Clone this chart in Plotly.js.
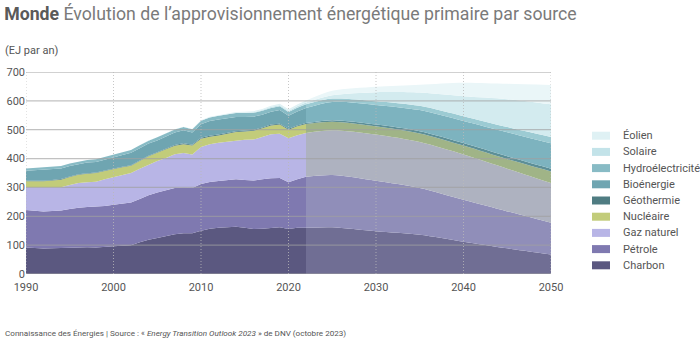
<!DOCTYPE html>
<html>
<head>
<meta charset="utf-8">
<script src="https://cdn.plot.ly/plotly-3.0.1.min.js"></script>
<style>html,body{margin:0;padding:0;background:#fff;}#chart{width:700px;height:341px;}</style>
</head>
<body>
<div id="chart"></div>
<script>
// ---- Data (EJ par an) ----
const seriesNames = ["Charbon","Pétrole","Gaz naturel","Nucléaire","Géothermie","Bioénergie","Hydroélectricité","Solaire","Éolien"];

const histYears = [1990,1991,1992,1993,1994,1995,1996,1997,1998,1999,2000,2001,2002,2003,2004,2005,2006,2007,2008,2009,2010,2011,2012,2013,2014,2015,2016,2017,2018,2019,2020,2021,2022];
const histCharbon = [92,90,88,89,90,92,93,93,92,93,96,98,100,110,119,125,131,138,141,141,150,157,160,163,164,160,156,157,160,162,156,160,160];
const histPetrole = [130,130,129,129,130,133,137,139,141,143,144,145,148,150,154,157,159,160,159,157,162,162,162,162,164,166,168,171,172,171,162,168,177];
const histGaz = [79,81,83,82,81,83,85,86,87,92,96,99,102,105,106,110,112,117,119,116,128,131,133,134,135,139,142,146,152,153,152,153,152];
const histNucleaire = [20,20,21,24,26,28,29,29,30,29,28,28,25,27,29,28,29,29,31,31,29,26,25,26,29,29,30,31,31,32,30,31,31];
const histGeothermie = [2,2,2,2,2,2,2,2,2,2,2,2,2,2,2,2,3,3,3,3,3,3,3,3,3,3,3,3,3,3,3,3,3];
const histBio = [35,37,38,37,37,36,35,37,36,37,39,39,43,42,42,41,42,43,45,42,47,51,52,51,49,47,46,44,44,47,45,48,52];
const histHydro = [8,8,8,8.5,8.5,9,9,9,9.5,9.5,9.5,9.5,9.5,10,10,10.5,11,11,11.5,11.5,12,12.5,13,13.5,13.5,13.5,13.5,13.5,13.5,13.5,13,13,13];
const histSolaire = [0,0,0,0,0,0,0,0,0,0,0,0,0,0,0,0,0,0,0,0,0.3,0.5,0.7,1,1.2,1.5,2,2.5,3,3.5,4,5,6];
const histEolien = [0,0,0,0,0,0,0,0,0,0,0.1,0.2,0.2,0.3,0.3,0.4,0.5,0.6,0.8,1,1.2,1.5,1.8,2.2,2.5,3,3.5,4,4.5,5,5.5,6.5,7];

const projYears = [2022,2025,2030,2035,2040,2045,2050];
const projCharbon = [160,162,148,136,112,89,68];
const projPetrole = [177,181,175,162,145,128,110];
const projGaz = [152,155,160,159,157,148,137];
const projNucleaire = [31,30,29,30,31,33,40];
const projGeothermie = [3,5,6,8,9,10,10];
const projBio = [52,63,68,73,76,83,88];
const projHydro = [13,12,13,15,17,18,22];
const projSolaire = [6,11,31,46,69,97,113];
const projEolien = [7,16,19,27,47,53,67];

const xTicks = [1990,2000,2010,2020,2030,2040,2050];
const yTicks = [0,100,200,300,400,500,600,700];

// ---- Styles ----
const histColors = ["#5b5880","#7f79b0","#b8b5e6","#c2cc7a","#4f7c82","#6fa5b1","#88bbc5","#c3e3e9","#dff1f4"];
const projColors = ["#706e94","#908eb9","#aeb2c0","#a0b487","#5d8f97","#7db3bf","#9ccbd3","#d3ebef","#eaf6f8"];

const histData = [histCharbon,histPetrole,histGaz,histNucleaire,histGeothermie,histBio,histHydro,histSolaire,histEolien];
const projData = [projCharbon,projPetrole,projGaz,projNucleaire,projGeothermie,projBio,projHydro,projSolaire,projEolien];

const traces = [];
seriesNames.forEach((name,i)=>{
  traces.push({
    type:'scatter', mode:'lines', x:histYears, y:histData[i], name:name,
    stackgroup:'hist', line:{width:0,color:histColors[i]}, fillcolor:histColors[i],
    showlegend:false, hoverinfo:'skip'
  });
});
seriesNames.forEach((name,i)=>{
  traces.push({
    type:'scatter', mode:'lines', x:projYears, y:projData[i], name:name,
    stackgroup:'proj', line:{width:0,color:projColors[i],shape:'spline',smoothing:0.8}, fillcolor:projColors[i],
    showlegend:false, hoverinfo:'skip'
  });
});

// plot area in pixels
const PL = 26, PR = 551, PT = 72, PB = 274;
const px2x = p => (p - PL) / (PR - PL);
const px2y = p => (PB - p) / (PB - PT);

const shapes = [];
yTicks.forEach(v=>{
  shapes.push({type:'line', xref:'paper', yref:'y', x0:0, x1:1, y0:v, y1:v,
    line:{color:'rgba(160,160,160,0.65)', width:1.3}, layer:'above'});
});
xTicks.forEach(v=>{
  shapes.push({type:'line', xref:'x', yref:'paper', x0:v, x1:v, y0:0, y1:1,
    line:{color:'rgba(185,185,185,0.8)', width:1, dash:'1px,2px'}, layer:'above'});
});

const font = {family:'Roboto, "Open Sans", sans-serif', color:'#555'};

const annotations = [
  {text:'(EJ par an)', xref:'paper', yref:'paper', x:px2x(3), y:px2y(51), xanchor:'left', yanchor:'middle',
   showarrow:false, font:{size:11, color:'#555', family:font.family}},
  {text:'Connaissance des Énergies | Source : « <i>Energy Transition Outlook 2023</i> » de DNV (octobre 2023)',
   xref:'paper', yref:'paper', x:px2x(3), y:px2y(333), xanchor:'left', yanchor:'middle',
   showarrow:false, font:{size:8.1, color:'#555', family:font.family}}
];

// custom legend (top: Éolien ... bottom: Charbon)
const n = seriesNames.length;
for (let k = 0; k < n; k++) {
  const i = n - 1 - k;
  const cy = 135.7 + 16.2 * k;
  shapes.push({type:'rect', xref:'paper', yref:'paper', x0:px2x(592), x1:px2x(610),
    y0:px2y(cy + 4), y1:px2y(cy - 4), fillcolor:histColors[i], line:{width:0}, layer:'above'});
  annotations.push({text:seriesNames[i], xref:'paper', yref:'paper', x:px2x(621), y:px2y(cy),
    xanchor:'left', yanchor:'middle', showarrow:false, font:{size:11, color:'#555', family:font.family}});
}

const layout = {
  width:700, height:341,
  margin:{l:PL, r:700-PR, t:PT, b:341-PB, autoexpand:false},
  paper_bgcolor:'#fff', plot_bgcolor:'#fff',
  font:Object.assign({size:11}, font),
  showlegend:false,
  title:{
    text:'<b style="color:#5a5a5a">Monde</b> <span style="color:#7a7a7a">Évolution de l\u2019approvisionnement énergétique primaire par source</span>',
    font:{family:'Roboto, sans-serif', size:17.7, color:'#777'},
    xref:'container', yref:'container', x:0.006, xanchor:'left', y:1 - 14/341, yanchor:'middle'
  },
  xaxis:{
    range:[1990,2050], tickvals:xTicks, showgrid:false, zeroline:false, showline:false,
    ticks:'', ticklabelstandoff:5, tickfont:{size:11, color:'#555', family:font.family}, fixedrange:true
  },
  yaxis:{
    range:[0,700], tickvals:yTicks, showgrid:false, zeroline:false, showline:false,
    ticks:'', tickfont:{size:11, color:'#555', family:font.family}, fixedrange:true
  },
  shapes:shapes,
  annotations:annotations
};

Plotly.newPlot('chart', traces, layout, {displayModeBar:false, staticPlot:true});
</script>
</body>
</html>
